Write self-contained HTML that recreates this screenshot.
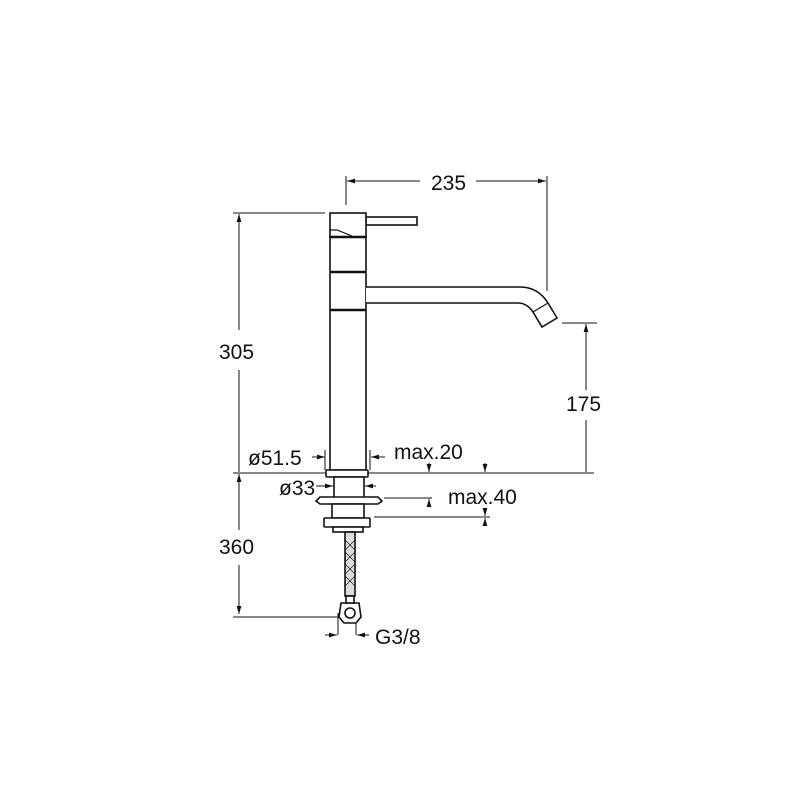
<!DOCTYPE html>
<html><head><style>body{margin:0;background:#fff}svg{display:block}text{font-family:"Liberation Sans",sans-serif;font-size:21px;fill:#111}</style></head>
<body>
<svg width="810" height="810" viewBox="0 0 810 810" xmlns="http://www.w3.org/2000/svg">
<defs><marker id="a" viewBox="0 0 10 6" refX="10" refY="3" markerWidth="8" markerHeight="5" orient="auto"><path d="M0,0L10,3L0,6z" fill="#111"/></marker></defs>
<g stroke="#111" fill="none" stroke-width="1">
<line x1="346" y1="176" x2="346" y2="205"/><line x1="547" y1="176" x2="547" y2="291"/>
<line x1="420" y1="181" x2="347" y2="181" marker-end="url(#a)"/><line x1="476" y1="181" x2="546" y2="181" marker-end="url(#a)"/>
<line x1="233" y1="213" x2="325" y2="213"/>
<line x1="239" y1="330" x2="239" y2="214" marker-end="url(#a)"/><line x1="239" y1="370" x2="239" y2="472"/>
<line x1="233" y1="473" x2="594" y2="473"/>
<line x1="239" y1="530" x2="239" y2="474" marker-end="url(#a)"/><line x1="239" y1="565" x2="239" y2="614" marker-end="url(#a)"/>
<line x1="233" y1="617" x2="338" y2="617"/>
<line x1="562" y1="323" x2="597" y2="323"/>
<line x1="586" y1="390" x2="586" y2="324" marker-end="url(#a)"/><line x1="586" y1="420" x2="586" y2="472"/>
<line x1="312" y1="457" x2="325" y2="457" marker-end="url(#a)"/><line x1="385" y1="457" x2="371" y2="457" marker-end="url(#a)"/>
<line x1="325" y1="450" x2="325" y2="470"/><line x1="370" y1="450" x2="370" y2="470"/>
<line x1="316" y1="486" x2="333" y2="486" marker-end="url(#a)"/><line x1="376" y1="486" x2="365" y2="486" marker-end="url(#a)"/>
<line x1="429" y1="463" x2="429" y2="472" marker-end="url(#a)"/><line x1="485" y1="463" x2="485" y2="472" marker-end="url(#a)"/>
<line x1="384" y1="498" x2="432" y2="498"/><line x1="429" y1="505" x2="429" y2="499" marker-end="url(#a)"/>
<line x1="374" y1="517" x2="490" y2="517"/><line x1="485" y1="509" x2="485" y2="516" marker-end="url(#a)"/><line x1="485" y1="523" x2="485" y2="518" marker-end="url(#a)"/>
<line x1="338" y1="613" x2="338" y2="635"/><line x1="356" y1="613" x2="356" y2="635"/>
<line x1="325" y1="635" x2="337" y2="635" marker-end="url(#a)"/><line x1="369" y1="635" x2="357" y2="635" marker-end="url(#a)"/>
</g>
<g stroke="#111" fill="#fff" stroke-width="1.6">
<rect x="330" y="236" width="36" height="234"/>
<path d="M366,287 L520,287 Q538,287 548,303 L557,318 L542,327 L533,312 Q527,303 518,303 L366,303"/>
<line x1="533" y1="312" x2="548" y2="303" stroke-width="1.2"/>
<rect x="366" y="217" width="51" height="8"/>
<rect x="330" y="213" width="36" height="24"/>
<path d="M330,230 L337,230 L352,236" fill="none" stroke-width="1.2"/>
<line x1="330" y1="237" x2="366" y2="237" stroke-width="2.5"/>
<line x1="330" y1="272" x2="366" y2="272" stroke-width="2.5"/>
<line x1="330" y1="310" x2="366" y2="310" stroke-width="2.5"/>
<rect x="326" y="470" width="42" height="7" rx="1"/>
<rect x="334" y="477" width="30" height="21"/>
<path d="M316,501 L320,497 L378,497 L382,501 L378,504 L320,504z"/>
<line x1="349" y1="504" x2="349" y2="509" stroke-width="1.2"/>
<rect x="332" y="504" width="32" height="14"/>
<rect x="324" y="518" width="46" height="9" rx="1"/>
<rect x="333" y="527" width="30" height="5"/>
<rect x="345" y="532" width="10" height="64" fill="#ddd"/>
<path d="M345,540 L355,550 M345,552 L355,562 M345,564 L355,574 M345,576 L355,586 M355,540 L345,550 M355,552 L345,562 M355,564 L345,574 M355,576 L345,586" stroke-width="0.6"/>
<path d="M341,603 L359,603 L361,617 L356,623 L344,623 L339,617z"/>
<circle cx="350" cy="613" r="5"/>
<rect x="346" y="596" width="8" height="7"/>
</g>
<g>
<text x="431" y="190">235</text>
<text x="219" y="359">305</text>
<text x="219" y="554">360</text>
<text x="566" y="411">175</text>
<text x="248" y="465">ø51.5</text>
<text x="394" y="459">max.20</text>
<text x="279" y="495">ø33</text>
<text x="448" y="504">max.40</text>
<text x="375" y="644">G3/8</text>
</g>
</svg>
</body></html>
